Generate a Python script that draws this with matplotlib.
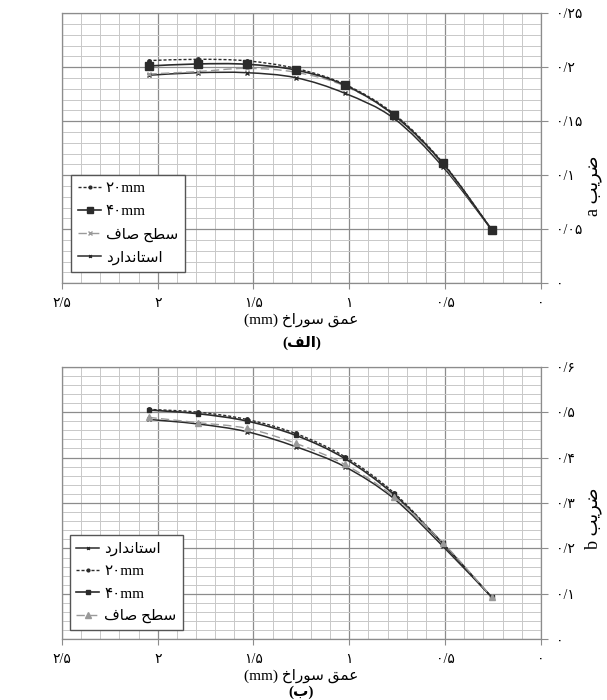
import numpy as np
import matplotlib
matplotlib.use('Agg')
import matplotlib.pyplot as plt
from matplotlib.path import Path
from matplotlib.patches import PathPatch
from matplotlib.lines import Line2D
from matplotlib.ticker import MultipleLocator, FuncFormatter

plt.rcParams['font.family'] = ['Liberation Serif', 'DejaVu Sans']

DARK = '#2b2b2b'
GRAY = '#9a9a9a'
GRID_MAJ = '#8c8c8c'
GRID_MIN = '#c8c8c8'

# depth of hole (mm)
depth = [2.048, 1.792, 1.536, 1.28, 1.024, 0.768, 0.512, 0.256]

# panel (a): coefficient a
a_20mm = [0.2062, 0.2074, 0.2060, 0.1990, 0.1843, 0.1570, 0.1117, 0.0494]
a_40mm = [0.2012, 0.2031, 0.2028, 0.1975, 0.1836, 0.1559, 0.1111, 0.0494]
a_flat = [0.1938, 0.1960, 0.1990, 0.1954, 0.1827, 0.1559, 0.1096, 0.0500]
a_std  = [0.1926, 0.1950, 0.1950, 0.1904, 0.1760, 0.1528, 0.1080, 0.0494]

# panel (b): coefficient b
b_std  = [0.484, 0.474, 0.457, 0.424, 0.380, 0.310, 0.205, 0.0924]
b_20mm = [0.506, 0.500, 0.484, 0.453, 0.402, 0.3227, 0.211, 0.0924]
b_40mm = [0.5047, 0.4966, 0.4805, 0.449, 0.398, 0.319, 0.211, 0.0924]
b_flat = [0.4885, 0.4768, 0.4643, 0.4313, 0.385, 0.314, 0.2127, 0.0924]

# ---- Persian text shaping (matplotlib has no bidi / joining) ----
FORMS = {  # iso, fin, ini, med
    'ا': ('\uFE8D', '\uFE8E', None, None),
    'ب': ('\uFE8F', '\uFE90', '\uFE91', '\uFE92'),
    'ت': ('\uFE95', '\uFE96', '\uFE97', '\uFE98'),
    'ح': ('\uFEA1', '\uFEA2', '\uFEA3', '\uFEA4'),
    'خ': ('\uFEA5', '\uFEA6', '\uFEA7', '\uFEA8'),
    'د': ('\uFEA9', '\uFEAA', None, None),
    'ر': ('\uFEAD', '\uFEAE', None, None),
    'س': ('\uFEB1', '\uFEB2', '\uFEB3', '\uFEB4'),
    'ص': ('\uFEB9', '\uFEBA', '\uFEBB', '\uFEBC'),
    'ض': ('\uFEBD', '\uFEBE', '\uFEBF', '\uFEC0'),
    'ط': ('\uFEC1', '\uFEC2', '\uFEC3', '\uFEC4'),
    'ع': ('\uFEC9', '\uFECA', '\uFECB', '\uFECC'),
    'ف': ('\uFED1', '\uFED2', '\uFED3', '\uFED4'),
    'ق': ('\uFED5', '\uFED6', '\uFED7', '\uFED8'),
    'ل': ('\uFEDD', '\uFEDE', '\uFEDF', '\uFEE0'),
    'م': ('\uFEE1', '\uFEE2', '\uFEE3', '\uFEE4'),
    'ن': ('\uFEE5', '\uFEE6', '\uFEE7', '\uFEE8'),
    'و': ('\uFEED', '\uFEEE', None, None),
    'ی': ('\uFBFC', '\uFBFD', '\uFBFE', '\uFBFF'),
}


def fa(text):
    out = []
    for i, ch in enumerate(text):
        if ch not in FORMS:
            out.append(ch)
            continue
        prev = text[i - 1] if i > 0 else ''
        nxt = text[i + 1] if i + 1 < len(text) else ''
        join_prev = prev in FORMS and FORMS[prev][2] is not None
        join_next = nxt in FORMS and FORMS[ch][2] is not None
        iso, fin, ini, med = FORMS[ch]
        if join_prev and join_next:
            out.append(med)
        elif join_prev:
            out.append(fin)
        elif join_next:
            out.append(ini)
        else:
            out.append(iso)
    return ''.join(out)[::-1]


PDIG = str.maketrans('0123456789', '۰۱۲۳۴۵۶۷۸۹')


def pnum(v, pos=None):
    s = f'{round(v, 4):g}'.replace('.', '/')
    return s.translate(PDIG)


def smooth(ax, xs, ys, **kw):
    # smoothed line like the spreadsheet: cubic Bezier through the points
    x = np.asarray(xs, float)
    y = np.asarray(ys, float)
    P = np.column_stack([x, y])
    n = len(P)
    verts = [P[0]]
    codes = [Path.MOVETO]
    for i in range(n - 1):
        p0 = P[i - 1] if i > 0 else P[i]
        p3 = P[i + 2] if i + 2 < n else P[i + 1]
        c1 = P[i] + (P[i + 1] - p0) / 6
        c2 = P[i + 1] - (p3 - P[i]) / 6
        verts += [c1, c2, P[i + 1]]
        codes += [Path.CURVE4] * 3
    ax.add_patch(PathPatch(Path(verts, codes), fill=False, **kw))


def setup(ax, ymax, ymaj, ymin):
    ax.set_xlim(2.5, 0)
    ax.set_ylim(0, ymax)
    ax.xaxis.set_major_locator(MultipleLocator(0.5))
    ax.xaxis.set_minor_locator(MultipleLocator(0.1))
    ax.yaxis.set_major_locator(MultipleLocator(ymaj))
    ax.yaxis.set_minor_locator(MultipleLocator(ymin))
    ax.xaxis.set_major_formatter(FuncFormatter(pnum))
    ax.yaxis.set_major_formatter(FuncFormatter(pnum))
    ax.yaxis.tick_right()
    ax.grid(True, which='major', color=GRID_MAJ, lw=0.9)
    ax.grid(True, which='minor', color=GRID_MIN, lw=0.7)
    ax.set_axisbelow(True)
    for s in ax.spines.values():
        s.set_color(GRID_MAJ)
        s.set_linewidth(0.9)
    ax.tick_params(which='major', length=4, color=GRID_MAJ, labelsize=10, pad=6)
    ax.tick_params(which='minor', length=0)
    ax.tick_params(axis='y', which='major', length=5, pad=6)
    ax.set_xlabel('(mm) ' + fa('عمق سوراخ'), fontsize=11, labelpad=2)


# styles: (color, linestyle, lw, marker, markersize)
STY = {
    '20mm': (DARK, (0, (2.2, 1.4)), 1.0, 'o', 2.5),
    '40mm': (DARK, '-', 1.2, 's', 5.5),
    'flat': (GRAY, (0, (6, 3)), 1.0, 'x', 3),
    'std':  (DARK, '-', 1.1, 'x', 2.5),
}
STY_B = dict(STY)
STY_B['40mm'] = (DARK, '-', 1.2, 's', 3)
STY_B['flat'] = (GRAY, (0, (6, 3)), 1.0, '^', 5)

LAB = {
    '20mm': '۲۰mm',
    '40mm': '۴۰mm',
    'flat': fa('سطح صاف'),
    'std': fa('استاندارد'),
}


def draw(ax, series, order, styles):
    handles = []
    for key in order:
        c, ls, lw, mk, ms = styles[key]
        ys = series[key]
        smooth(ax, depth, ys, edgecolor=c, linestyle=ls, linewidth=lw, zorder=3)
        ax.plot(depth, ys, linestyle='none', marker=mk, ms=ms, color=c,
                mec=c, mew=1.0, zorder=4)
        handles.append(Line2D([0], [0], color=c, ls=ls, lw=lw, marker=mk,
                              ms=ms * 0.8, mew=1.0, label=LAB[key]))
    return handles


LEG = dict(loc='lower left', fontsize=11, frameon=True, fancybox=False,
           edgecolor='#555555', framealpha=1, handlelength=1.5,
           handletextpad=0.3, borderpad=0.45, borderaxespad=0)

fig = plt.figure(figsize=(6.07, 7.0), dpi=100)

# ---------- panel (a) ----------
ax1 = fig.add_axes([0.102, 0.5953, 0.789, 0.3857])
setup(ax1, 0.25, 0.05, 0.01)
h1 = draw(ax1, {'20mm': a_20mm, '40mm': a_40mm, 'flat': a_flat, 'std': a_std},
          ['std', 'flat', '40mm', '20mm'], STY)
h1 = h1[::-1]
ax1.legend(handles=h1, bbox_to_anchor=(0.02, 0.042), labelspacing=0.6, **LEG)
ax1.text(1.11, 0.36, 'a ' + fa('ضریب'), transform=ax1.transAxes, rotation=90,
         ha='center', va='center', fontsize=13)
ax1.text(0.5, -0.22, '(' + fa('الف') + ')', transform=ax1.transAxes,
         ha='center', va='center', fontsize=11, fontweight='bold')

# ---------- panel (b) ----------
ax2 = fig.add_axes([0.102, 0.0867, 0.789, 0.3895])
setup(ax2, 0.6, 0.1, 0.02)
h2 = draw(ax2, {'20mm': b_20mm, '40mm': b_40mm, 'flat': b_flat, 'std': b_std},
          ['std', '20mm', '40mm', 'flat'], STY_B)
ax2.legend(handles=h2, bbox_to_anchor=(0.016, 0.034), labelspacing=0.55, **LEG)
ax2.text(1.11, 0.445, 'b ' + fa('ضریب'), transform=ax2.transAxes, rotation=90,
         ha='center', va='center', fontsize=13)
ax2.text(0.5, -0.195, '(' + fa('ب') + ')', transform=ax2.transAxes,
         ha='center', va='center', fontsize=11, fontweight='bold')

fig.savefig('out.png', dpi=100)
